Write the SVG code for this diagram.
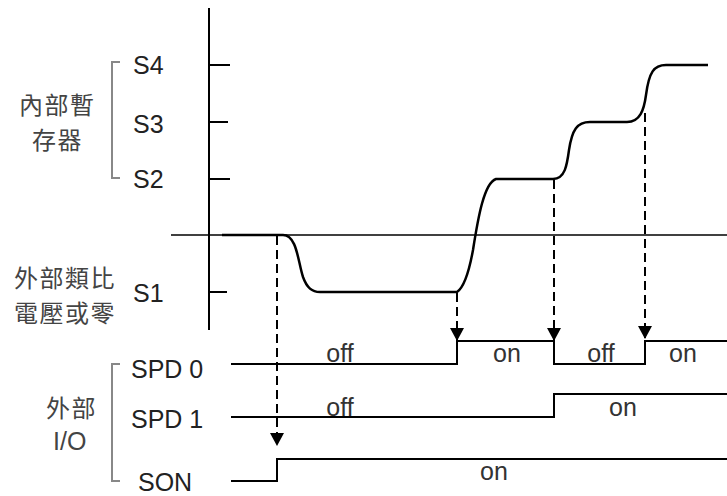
<svg xmlns="http://www.w3.org/2000/svg" width="727" height="496" viewBox="0 0 727 496">
<defs>
<style>
.lbl{font-family:"Liberation Sans",Arial,sans-serif;font-size:25px;fill:#222}
.cjk{font-family:"Noto Sans CJK TC","Liberation Sans",sans-serif;font-size:24px;fill:#444;letter-spacing:1.5px}
.gio{font-family:"Liberation Sans",Arial,sans-serif;font-size:25px;fill:#444}
.wl{font-family:"Liberation Sans",Arial,sans-serif;font-size:25px;fill:#333;text-anchor:middle}
.ax{stroke:#000;stroke-width:2;fill:none}
.wave{stroke:#000;stroke-width:2;fill:none}
.curve{stroke:#000;stroke-width:2.5;fill:none}
.dash{stroke:#000;stroke-width:2;fill:none;stroke-dasharray:9 5}
.br{stroke:#888;stroke-width:2;fill:none}
</style>
<marker id="ah" markerWidth="14" markerHeight="13" viewBox="0 0 14 13" refX="7" refY="12" orient="0" markerUnits="userSpaceOnUse">
<path d="M0,0 L14,0 L7,13 Z" fill="#000"/>
</marker>
</defs>
<g id="axes">
<line class="ax" x1="209" y1="8" x2="209" y2="330"/>
<line class="ax" x1="171" y1="235" x2="727" y2="235" style="stroke-width:1.6"/>
<line class="ax" x1="209" y1="65" x2="230" y2="65"/>
<line class="ax" x1="209" y1="122" x2="228" y2="122"/>
<line class="ax" x1="209" y1="179" x2="230" y2="179"/>
<line class="ax" x1="209" y1="292" x2="227" y2="292"/>
</g>
<g id="labels-left">
<path class="br" d="M120,62 H112 V178 H120"/>
<text class="cjk" x="19" y="114">內部暫</text>
<text class="cjk" x="32" y="149">存器</text>
<text class="lbl" x="133" y="74">S4</text>
<text class="lbl" x="133" y="133">S3</text>
<text class="lbl" x="133" y="188">S2</text>
<text class="cjk" x="14" y="287">外部類比</text>
<text class="cjk" x="14" y="322">電壓或零</text>
<text class="lbl" x="133" y="302">S1</text>
<path class="br" d="M120,364 H112 V481 H120"/>
<text class="cjk" x="46" y="417">外部</text>
<text class="gio" x="53" y="450">I/O</text>
<text class="lbl" x="131" y="378">SPD 0</text>
<text class="lbl" x="131" y="428">SPD 1</text>
<text class="lbl" x="138" y="491">SON</text>
</g>
<g id="curve">
<path class="curve" d="M222,235 H283 C297,235 298,262 303,277 C307,288 312,292 320,292 H457 C463,288 469,272 473,250 C478,218 484,183 496,179 H553 C565,179 567,165 569,150 C572,130 577,122 590,122 H627 C640,122 644,110 646,95 C649,72 654,65 666,65 H708"/>
</g>
<g id="connectors">
<line class="dash" x1="277" y1="236" x2="277" y2="445" marker-end="url(#ah)"/>
<line class="dash" x1="457" y1="293" x2="457" y2="340" marker-end="url(#ah)"/>
<line class="dash" x1="554" y1="180" x2="554" y2="340" marker-end="url(#ah)"/>
<line class="dash" x1="645" y1="113" x2="645" y2="338" marker-end="url(#ah)"/>
</g>
<g id="spd0">
<path class="wave" d="M231,364 H457 V341 H554 V364 H645 V341 H727"/>
<text class="wl" x="340" y="362">off</text>
<text class="wl" x="507" y="362">on</text>
<text class="wl" x="601" y="362">off</text>
<text class="wl" x="683" y="362">on</text>
</g>
<g id="spd1">
<path class="wave" d="M231,417 H554 V394 H727"/>
<text class="wl" x="340" y="416">off</text>
<text class="wl" x="623" y="416">on</text>
</g>
<g id="son">
<path class="wave" d="M231,481 H277 V459 H727"/>
<text class="wl" x="494" y="480">on</text>
</g>
</svg>
